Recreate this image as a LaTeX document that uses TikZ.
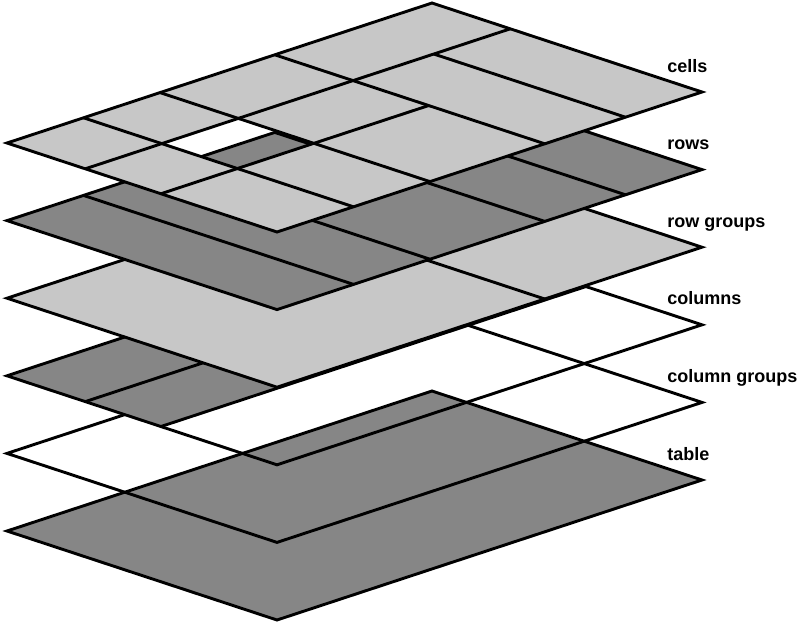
\documentclass[tikz,border=0pt]{standalone}
\usepackage{fontspec}
\setmainfont{Liberation Sans}
\definecolor{lgray}{RGB}{199,199,199}
\definecolor{dgray}{RGB}{134,134,134}
\tikzset{
  layer/.style={x={(425pt,140pt)}, y={(270pt,-89pt)}},
  lbl/.style={anchor=base west, inner sep=0pt, font=\fontsize{18}{20}\selectfont\bfseries}
}
\begin{document}
\begin{tikzpicture}[line width=2.9pt, line join=miter]
\useasboundingbox (0,0) rectangle (807pt,-625pt);
% table
\begin{scope}[shift={(7pt,-531pt)}, layer]
  \filldraw[fill=dgray] (0,0) -- (1,0) -- (1,1) -- (0,1) -- cycle;
\end{scope}
% column groups
\begin{scope}[shift={(7pt,-453.4pt)}, layer]
  \draw (0,0) -- (1,0) -- (1,1) -- (0,1) -- cycle;
\end{scope}
% columns
\begin{scope}[shift={(7pt,-375.8pt)}, layer]
  \fill[dgray] (0,0) -- (1,0) -- (1,0.57) -- (0,0.57) -- cycle;
  \draw (0,0) -- (1,0) -- (1,1) -- (0,1) -- cycle;
  \draw (0,0.29) -- (1,0.29);
  \draw (0,0.57) -- (1,0.57);
\end{scope}
% row groups
\begin{scope}[shift={(7pt,-298.2pt)}, layer]
  \filldraw[fill=lgray] (0,0) -- (1,0) -- (1,1) -- (0,1) -- cycle;
  \draw (0.63,0) -- (0.63,1);
\end{scope}
% rows
\begin{scope}[shift={(7pt,-220.6pt)}, layer]
  \filldraw[fill=dgray] (0,0) -- (1,0) -- (1,1) -- (0,1) -- cycle;
  \foreach \s in {0.18,0.36,0.63,0.82} \draw (\s,0) -- (\s,1);
\end{scope}
% cells
\begin{scope}[shift={(7pt,-143pt)}, layer]
  \fill[lgray, even odd rule] (0,0) -- (1,0) -- (1,1) -- (0,1) -- cycle
     (0.18,0.29) -- (0.36,0.29) -- (0.36,0.57) -- (0.18,0.57) -- cycle;
  \draw (0,0) -- (1,0) -- (1,1) -- (0,1) -- cycle;
  \foreach \s in {0.18,0.36,0.63} \draw (\s,0) -- (\s,1);
  \draw (0.82,0.29) -- (0.82,1);
  \draw (0,0.29) -- (1,0.29);
  \draw (0,0.57) -- (0.63,0.57);
\end{scope}
% labels
\node[lbl] (lcells) at (666pt,-72pt) {cells};
\node[lbl] (lrows) at (666pt,-149.6pt) {rows};
\node[lbl] (lrowgroups) at (666pt,-227.2pt) {row groups};
\node[lbl] (lcolumns) at (666pt,-304.8pt) {columns};
\node[lbl] (lcolgroups) at (666pt,-382.4pt) {column groups};
\node[lbl] (ltable) at (666pt,-460pt) {table};
\end{tikzpicture}
\end{document}
